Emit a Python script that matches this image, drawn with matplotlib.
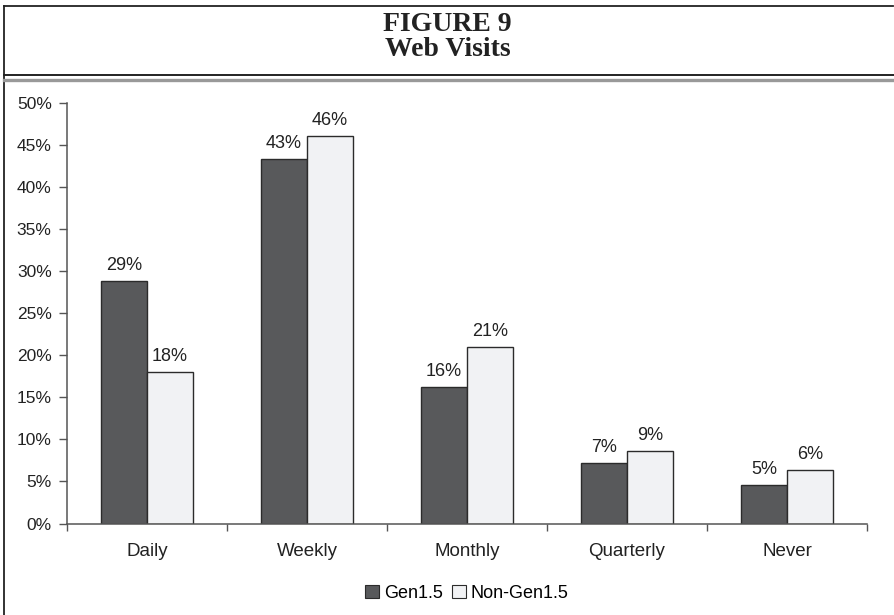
import numpy as np
import matplotlib.pyplot as plt
from matplotlib.lines import Line2D
from matplotlib.patches import Patch

# Web visit frequency, percent of respondents
categories = ["Daily", "Weekly", "Monthly", "Quarterly", "Never"]
gen15 = [28.8, 43.4, 16.2, 7.2, 4.6]
non_gen15 = [18.0, 46.1, 21.0, 8.6, 6.4]
y_ticks = [0, 5, 10, 15, 20, 25, 30, 35, 40, 45, 50]

dark = "#58595b"
light = "#f1f2f4"
edge = "#2b2b2b"
font = "Liberation Sans"

W, H = 895, 615
fig = plt.figure(figsize=(W / 100, H / 100), dpi=100)

# frame and title block
fig.add_artist(Line2D([4 / W, 4 / W], [0, 1 - 6 / H], color="#222222", lw=1.3))
fig.add_artist(Line2D([4 / W, 893 / W], [1 - 6 / H, 1 - 6 / H], color="#222222", lw=1.3))
fig.add_artist(Line2D([4 / W, 1], [1 - 75 / H, 1 - 75 / H], color="#222222", lw=1.4))
fig.add_artist(Line2D([4 / W, 1], [1 - 79.5 / H, 1 - 79.5 / H], color="#999999", lw=2.4))
fig.text(0.5, 1 - 31 / H, "FIGURE 9", ha="center", va="baseline",
         family="Liberation Serif", fontweight="bold", fontsize=20, color="#222222")
fig.text(0.5, 1 - 56 / H, "Web Visits", ha="center", va="baseline",
         family="Liberation Serif", fontweight="bold", fontsize=20, color="#222222")

ax = fig.add_axes([67 / W, 1 - 523.5 / H, 800 / W, 420.5 / H])
x = np.arange(len(categories))
w = 0.2875
b1 = ax.bar(x - w / 2, gen15, w, color=dark, edgecolor=edge, linewidth=1.0, label="Gen1.5")
b2 = ax.bar(x + w / 2, non_gen15, w, color=light, edgecolor=edge, linewidth=1.0, label="Non-Gen1.5")

for bars, vals in ((b1, gen15), (b2, non_gen15)):
    for bar, v in zip(bars, vals):
        ax.annotate(f"{v:.0f}%", (bar.get_x() + bar.get_width() / 2, v),
                    xytext=(0, 5), textcoords="offset points", ha="center", va="bottom",
                    family=font, fontsize=13, color="#222222")

ax.set_xlim(-0.5, len(categories) - 0.5)
ax.set_ylim(0, 50)
ax.set_yticks(y_ticks)
ax.set_yticklabels([f"{t}%" for t in y_ticks], family=font, fontsize=12.5, color="#222222")

# boundary ticks between categories, labels at centres
ax.set_xticks(np.arange(-0.5, len(categories), 1.0))
ax.set_xticklabels([])
ax.set_xticks(x, minor=True)
ax.set_xticklabels(categories, minor=True, family=font, fontsize=13.5, color="#222222")
ax.tick_params(axis="x", which="major", length=5, width=1, color="#555555", direction="out")
ax.tick_params(axis="x", which="minor", length=0, pad=14)
ax.tick_params(axis="y", length=6, width=1, color="#555555", direction="out", pad=5)

for s in ("top", "right"):
    ax.spines[s].set_visible(False)
for s in ("left", "bottom"):
    ax.spines[s].set_color("#555555")
    ax.spines[s].set_linewidth(1.1)

handles = [Patch(facecolor=dark, edgecolor=edge, linewidth=0.8, label="Gen1.5"),
           Patch(facecolor=light, edgecolor=edge, linewidth=0.8, label="Non-Gen1.5")]
fig.legend(handles=handles, loc="center", bbox_to_anchor=(467 / W, 1 - 593 / H), ncol=2,
           frameon=False, handlelength=0.75, handleheight=0.75, handletextpad=0.3,
           columnspacing=0.5, prop={"family": font, "size": 13})

fig.savefig("out.png", dpi=100)
